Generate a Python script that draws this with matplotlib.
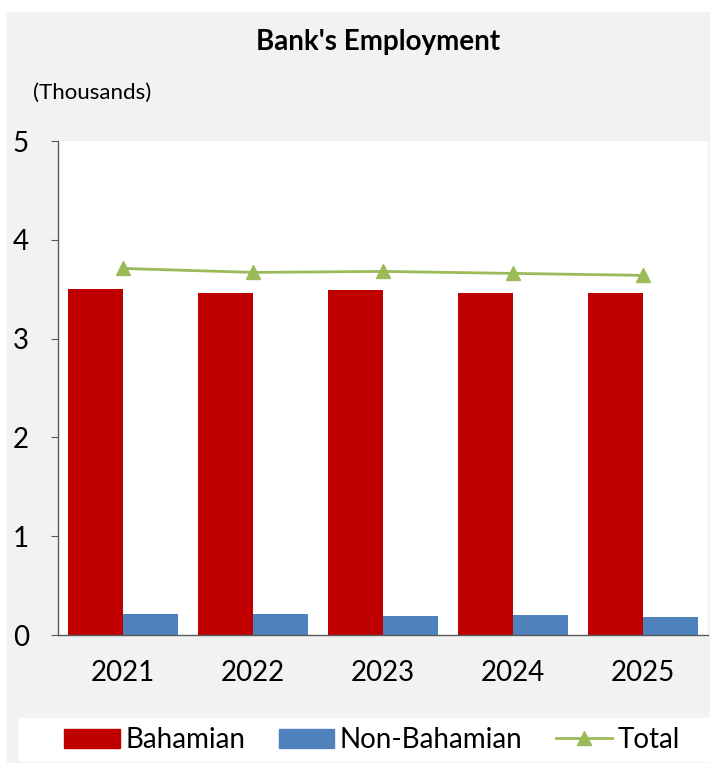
import numpy as np
import matplotlib
matplotlib.use("Agg")
import matplotlib.pyplot as plt
from matplotlib.patches import Rectangle, Patch
from matplotlib.lines import Line2D

# Bank's employment, thousands
years = ['2021', '2022', '2023', '2024', '2025']
bahamian = [3.50, 3.46, 3.49, 3.46, 3.46]
non_bahamian = [0.21, 0.21, 0.19, 0.20, 0.18]
total = [3.71, 3.67, 3.68, 3.66, 3.64]

red = '#C00000'
blue = '#4F81BD'
green = '#9BBB59'
panel = '#F2F2F2'

plt.rcParams['font.family'] = ['Lato', 'DejaVu Sans']

W, H = 710, 763
fig = plt.figure(figsize=(W / 100, H / 100), dpi=100)
fig.patch.set_facecolor('white')

# gray chart panel and white legend strip (figure pixel coords)
def px(x0, y0, x1, y1):
    return (x0 / W, 1 - y1 / H), (x1 - x0) / W, (y1 - y0) / H

xy, w, h = px(7, 12, 710, 763)
fig.add_artist(Rectangle(xy, w, h, transform=fig.transFigure, color=panel, zorder=0))
xy, w, h = px(19, 718, 710, 761)
fig.add_artist(Rectangle(xy, w, h, transform=fig.transFigure, color='white', zorder=1))

ax = fig.add_axes([58 / W, 1 - 635 / H, (708 - 58) / W, (635 - 141) / H])
ax.set_facecolor('white')

x = np.arange(len(years))
bw = 0.42
ax.bar(x - bw / 2, bahamian, bw, color=red, label='Bahamian', zorder=2)
ax.bar(x + bw / 2, non_bahamian, bw, color=blue, label='Non-Bahamian', zorder=2)
ax.plot(x, total, color=green, lw=2, marker='^', ms=10, label='Total', zorder=3)

ax.set_xlim(-0.5, len(years) - 0.5)
ax.set_ylim(0, 5)
ax.set_yticks([0, 1, 2, 3, 4, 5])
ax.set_xticks(x)
ax.set_xticklabels(years)

for s in ['top', 'right']:
    ax.spines[s].set_visible(False)
for s in ['left', 'bottom']:
    ax.spines[s].set_color('#595959')
    ax.spines[s].set_linewidth(1)

ax.tick_params(axis='y', direction='out', length=5, color='#595959',
               labelsize=20, pad=16)
ax.tick_params(axis='x', length=0, labelsize=20, pad=18)

fig.text(378 / W, 1 - 42 / H, "Bank's Employment", ha='center', va='center',
         fontsize=20, fontweight='bold')
fig.text(33 / W, 1 - 93 / H, '(Thousands)', ha='left', va='center', fontsize=16)

handles = [Patch(color=red), Patch(color=blue),
           Line2D([], [], color=green, lw=2, marker='^', ms=10)]
fig.legend(handles, ['Bahamian', 'Non-Bahamian', 'Total'], ncol=3,
           loc='center', bbox_to_anchor=(372 / W, 1 - 740 / H), frameon=False,
           fontsize=20, handlelength=2.0, handleheight=0.7, handletextpad=0.2,
           columnspacing=1.2, borderpad=0)

fig.savefig('out.png', dpi=100)
